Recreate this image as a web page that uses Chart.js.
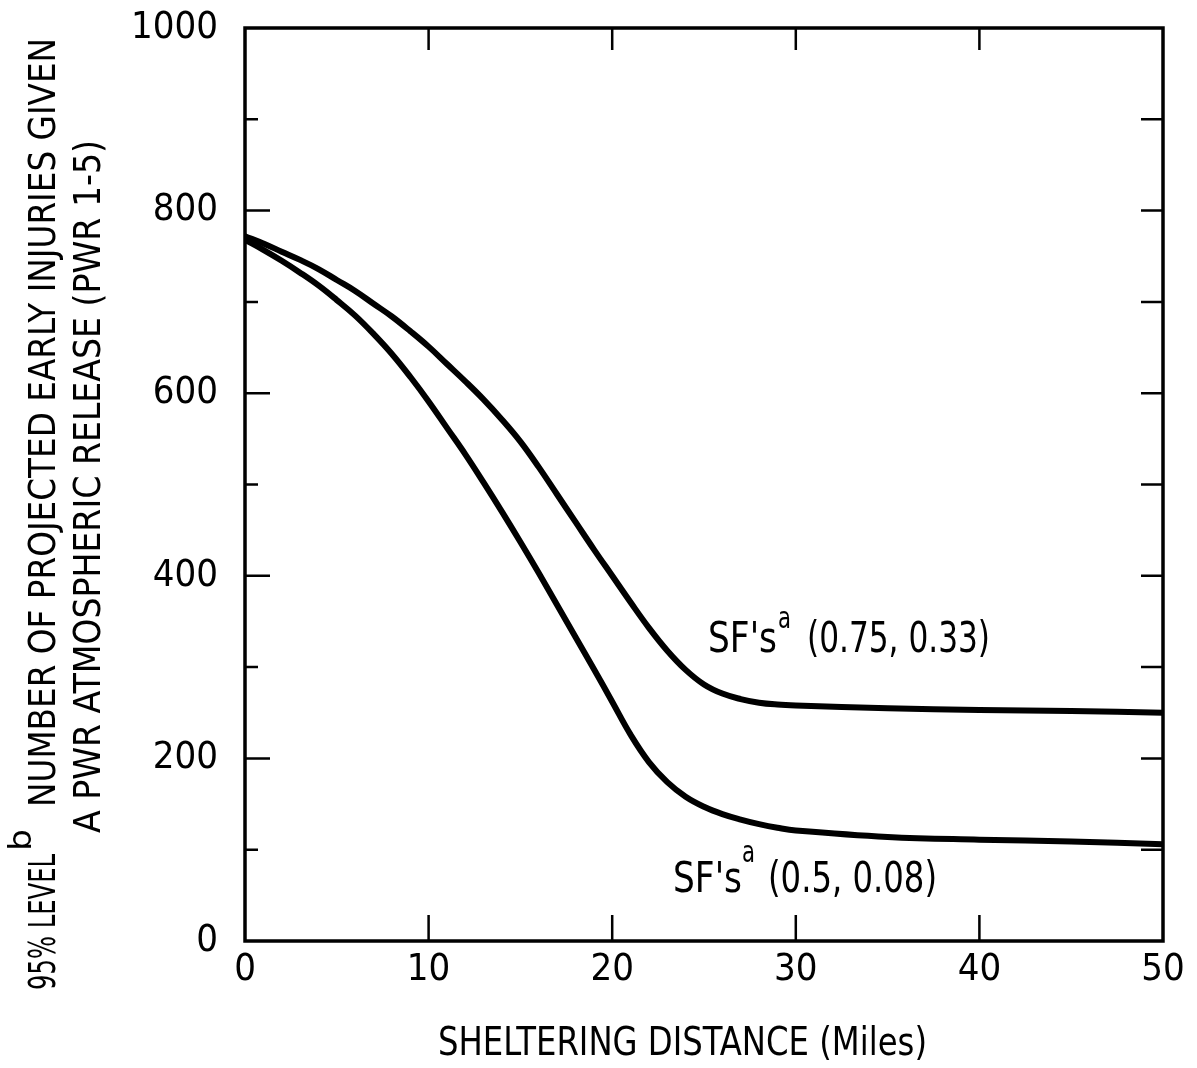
<!DOCTYPE html>
<html><head><meta charset="utf-8">
<script src="https://cdn.jsdelivr.net/npm/chart.js@4.4.1/dist/chart.umd.min.js"></script>
<style>html,body{margin:0;padding:0;background:#fff;}#wrap{width:1197px;height:1068px;position:relative;}#c{width:1197px;height:1068px;}</style>
</head><body><div id="wrap"><canvas id="c"></canvas></div>
<script>
// Sheltering distance (miles)
const distanceMiles = [0,1,2,3,4,5,6,7,8,9,10,11,12,13,14,15,16,17,18,19,20,21,22,23,24,25,26,27,28,29,30,35,40,45,50];
// SF's (0.75, 0.33)
const upperSeries = [772,764,755,746,736,724,712,698,684,668,651,632,613,593,571,547,519,489,459,429,400,371,343,318,297,281,271,265,261,259,258,255,253,252,250];
// SF's (0.5, 0.08)
const lowerSeries = [768,757,745,732,718,702,685,665,643,618,591,562,533,502,470,437,403,368,333,298,262,226,196,174,158,147,139,133,128,124,121,114,111,109,106];
const xTickValues = [0,10,20,30,40,50];
const yMajorTicks = [0,200,400,600,800,1000];
const yMinorTicks = [100,300,500,700,900];
const upperLabel = ["SF's", "a", "(0.75, 0.33)"];
const lowerLabel = ["SF's", "a", "(0.5, 0.08)"];
const xTitle = "SHELTERING DISTANCE (Miles)";
const yTitleLine1 = ["95% LEVEL", "b", "NUMBER OF PROJECTED EARLY INJURIES GIVEN"];
const yTitleLine2 = "A PWR ATMOSPHERIC RELEASE (PWR 1-5)";

const FONT = "'Liberation Sans Narrow','DejaVu Sans Condensed','Roboto Condensed','Liberation Sans',sans-serif";

function fitText(ctx, text, x, y, width, size) {
  ctx.save();
  ctx.font = size + "px " + FONT;
  const w = ctx.measureText(text).width;
  ctx.translate(x, y);
  ctx.scale(width / w, 1);
  ctx.textAlign = "left";
  ctx.textBaseline = "alphabetic";
  ctx.fillText(text, 0, 0);
  ctx.restore();
}

const decor = {
  id: "decor",
  afterDatasetsDraw(chart) {
    const ctx = chart.ctx;
    const a = chart.chartArea;
    const xs = chart.scales.x, ys = chart.scales.y;
    ctx.save();
    ctx.strokeStyle = "#000";
    ctx.fillStyle = "#000";
    ctx.lineWidth = 3.5;
    ctx.strokeRect(a.left, a.top, a.right - a.left, a.bottom - a.top);
    ctx.lineWidth = 2.5;
    ctx.beginPath();
    yMajorTicks.forEach(v => {
      const p = ys.getPixelForValue(v);
      if (v > 0 && v < 1000) {
        ctx.moveTo(a.left, p); ctx.lineTo(a.left + 25, p);
        ctx.moveTo(a.right, p); ctx.lineTo(a.right - 22, p);
      }
    });
    yMinorTicks.forEach(v => {
      const p = ys.getPixelForValue(v);
      ctx.moveTo(a.left, p); ctx.lineTo(a.left + 13, p);
      ctx.moveTo(a.right, p); ctx.lineTo(a.right - 22, p);
    });
    xTickValues.forEach(v => {
      if (v > 0 && v < 50) {
        const p = xs.getPixelForValue(v);
        ctx.moveTo(p, a.bottom); ctx.lineTo(p, a.bottom - 26);
        ctx.moveTo(p, a.top); ctx.lineTo(p, a.top + 22);
      }
    });
    ctx.stroke();

    // curve labels
    fitText(ctx, upperLabel[0], 708, 652, 69, 43);
    fitText(ctx, upperLabel[1], 778, 628, 13, 30);
    fitText(ctx, upperLabel[2], 807, 652, 183, 43);
    fitText(ctx, lowerLabel[0], 673, 892, 69, 43);
    fitText(ctx, lowerLabel[1], 742, 862, 13, 30);
    fitText(ctx, lowerLabel[2], 768, 892, 169, 43);

    // x title
    fitText(ctx, xTitle, 438, 1055, 489, 39);

    // y title (rotated)
    ctx.save();
    ctx.translate(55, 990);
    ctx.rotate(-Math.PI / 2);
    fitText(ctx, yTitleLine1[0], 0, 0, 136, 38);
    fitText(ctx, yTitleLine1[1], 139, -24, 22, 32);
    fitText(ctx, yTitleLine1[2], 183, 0, 769, 38);
    ctx.restore();
    ctx.save();
    ctx.translate(100, 833);
    ctx.rotate(-Math.PI / 2);
    fitText(ctx, yTitleLine2, 0, 0, 693, 38);
    ctx.restore();
    ctx.restore();
  }
};

const mk = arr => distanceMiles.map((d, i) => ({x: d, y: arr[i]}));
const noPad = s => { s.paddingTop = 0; s.paddingBottom = 0; s.paddingLeft = 0; s.paddingRight = 0; };

new Chart(document.getElementById("c"), {
  type: "line",
  data: {
    datasets: [
      {label: "SF's (0.75, 0.33)", data: mk(upperSeries), borderColor: "#000", borderWidth: 6, pointRadius: 0, tension: 0.4, fill: false, borderCapStyle: "round", borderJoinStyle: "round"},
      {label: "SF's (0.5, 0.08)", data: mk(lowerSeries), borderColor: "#000", borderWidth: 6, pointRadius: 0, tension: 0.4, fill: false, borderCapStyle: "round", borderJoinStyle: "round"}
    ]
  },
  options: {
    responsive: true,
    maintainAspectRatio: false,
    animation: false,
    devicePixelRatio: 1,
    layout: {padding: {left: 0, top: 28, right: 34, bottom: 0}},
    plugins: {legend: {display: false}, tooltip: {enabled: false}},
    scales: {
      x: {
        type: "linear", min: 0, max: 50,
        afterBuildTicks: s => { s.ticks = xTickValues.map(v => ({value: v})); },
        ticks: {color: "#000", font: {family: FONT, size: 38}, padding: 6, maxRotation: 0, autoSkip: false, callback: v => String(v)},
        grid: {display: false, drawTicks: false}, border: {display: false},
        afterFit: s => { s.height = 127; noPad(s); }
      },
      y: {
        type: "linear", min: 0, max: 1000,
        afterBuildTicks: s => { s.ticks = yMajorTicks.map(v => ({value: v})); },
        ticks: {color: "#000", font: {family: FONT, size: 38}, padding: 27, autoSkip: false, callback: v => String(v)},
        grid: {display: false, drawTicks: false}, border: {display: false},
        afterFit: s => { s.width = 245; noPad(s); }
      }
    }
  },
  plugins: [decor]
});
</script>
</body></html>
